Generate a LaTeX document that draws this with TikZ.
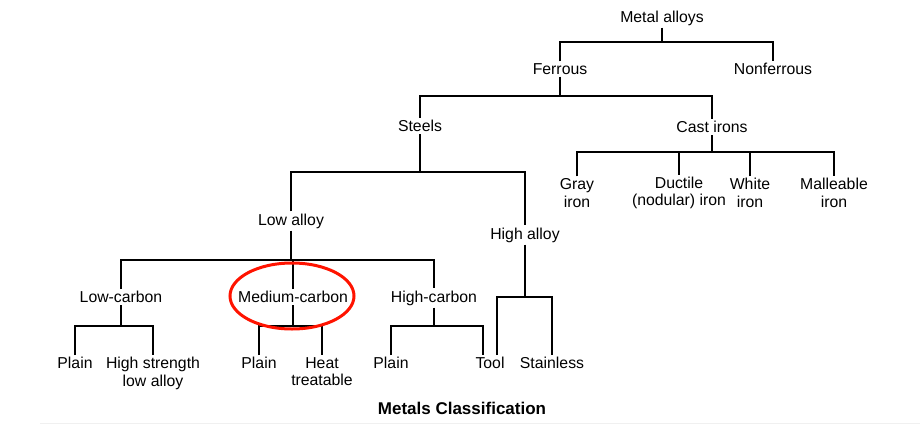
\documentclass[tikz,border=0pt]{standalone}
\usepackage{fontspec}
\setmainfont{Liberation Sans}
\usetikzlibrary{positioning,calc}

\tikzset{
  lbl/.style={inner sep=2pt, font=\fontsize{15.8}{17.5}\selectfont, align=center},
  link/.style={line width=1.4pt, black},
}

\begin{document}
\begin{tikzpicture}[x=1pt,y=-1pt]
    \useasboundingbox (0,0) rectangle (920,428);

    % Levels of the tree
    \node[lbl] (ma) at (662,18) {Metal alloys};
    \node[lbl] (fe) at (560,69) {Ferrous};
    \node[lbl] (nf) at (773,69) {Nonferrous};
    \node[lbl] (st) at (420,126) {Steels};
    \node[lbl] (ci) at (712,127) {Cast irons};
    \node[lbl] (gi) at (577,193) {Gray\\iron};
    \node[lbl] (di) at (679,193) {Ductile\\(nodular) iron};
    \node[lbl] (wi) at (750,193) {White\\iron};
    \node[lbl] (mi) at (834,193) {Malleable\\iron};
    \node[lbl] (la) at (291,221) {Low alloy};
    \node[lbl] (ha) at (525,235) {High alloy};
    \node[lbl] (lc) at (121,297) {Low-carbon};
    \node[lbl] (mc) at (293,297) {Medium-carbon};
    \node[lbl] (hc) at (434,298) {High-carbon};
    \node[lbl, anchor=north] (p1) at (75,355) {Plain};
    \node[lbl, anchor=north] (hs) at (153,355) {High strength\\low alloy};
    \node[lbl, anchor=north] (p2) at (259,355) {Plain};
    \node[lbl, anchor=north] (ht) at (322,355) {Heat\\treatable};
    \node[lbl, anchor=north] (p3) at (391,355) {Plain};
    \node[lbl, anchor=north] (tl) at (490,355) {Tool};
    \node[lbl, anchor=north] (sl) at (552,355) {Stainless};

    % Junctions
    \coordinate (j1) at (662,42);
    \coordinate (j2) at (560,96);
    \coordinate (j3) at (712,152);
    \coordinate (j4) at (420,172);
    \coordinate (j5) at (291,260);
    \coordinate (j6) at (525,297);
    \coordinate (j7) at (121,326);
    \coordinate (j8) at (293,326);
    \coordinate (j9) at (434,326);

    \draw[link] (ma) -- (j1);
    \draw[link] (fe.north) |- (j1) -| (nf.north);
    \draw[link] (fe) -- (j2);
    \draw[link] (st.north) |- (j2) -| (ci.north);
    \draw[link] (ci) -- (j3);
    \draw[link] (gi.north) |- (j3) -| (mi.north);
    \draw[link] (wi.north) -- (wi.north |- j3);
    \draw[link] (di.north) -- (di.north |- j3);
    \draw[link] (st) -- (j4);
    \draw[link] (la.north) |- (j4) -| (ha.north);
    \draw[link] (la) -- (j5);
    \draw[link] (lc.north) |- (j5) -| (hc.north);
    \draw[link] (mc.north) -- (mc.north |- j5);
    \draw[link] (ha) -- (j6);
    \draw[link] ([xshift=7]tl.north) |- (j6) -| (sl.north);
    \draw[link] (lc) -- (j7);
    \draw[link] (p1.north) |- (j7) -| (hs.north);
    \draw[link] (mc) -- (j8);
    \draw[link] (p2.north) |- (j8) -| (ht.north);
    \draw[link] (hc) -- (j9);
    \draw[link] (p3.north) |- (j9) -| ([xshift=-7]tl.north);

    % Highlight
    \draw[red!85!orange, line width=3pt] (292,296) ellipse [x radius=62, y radius=33];

    \node[lbl, font=\fontsize{17}{19}\selectfont\bfseries] (title) at (462,408) {Metals Classification};
    \draw[gray!12, line width=1pt] (40,423) -- (920,423);
\end{tikzpicture}
\end{document}
